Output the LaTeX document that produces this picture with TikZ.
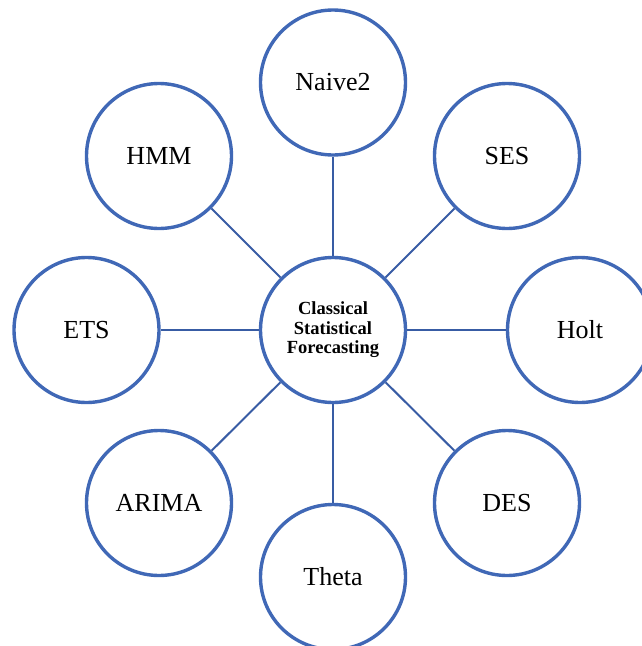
\documentclass[tikz,border=0pt]{standalone}
\usepackage{fontspec}
\setmainfont{Liberation Serif}
\definecolor{ringblue}{RGB}{64,104,182}
\definecolor{linkblue}{RGB}{56,92,164}
\begin{document}
\begin{tikzpicture}[x=1pt,y=-1pt,
  ring/.style={circle,draw=ringblue,line width=3.4pt,fill=white,minimum size=145pt,inner sep=0pt,font=\fontsize{26}{29}\selectfont},
  hub/.style={ring,font=\bfseries\fontsize{18.5}{19.5}\selectfont,align=center},
  link/.style={draw=linkblue,line width=2pt}]
\useasboundingbox (0,0) rectangle (641,646);
\node[hub] (c) at (333,330) {Classical\\Statistical\\Forecasting};
\node[ring] (naive) at (333,82.5) {Naive2};
\node[ring] (ses) at (507,156) {SES};
\node[ring] (holt) at (580,330) {Holt};
\node[ring] (des) at (507,503) {DES};
\node[ring] (theta) at (333,577) {Theta};
\node[ring] (arima) at (159,503) {ARIMA};
\node[ring] (ets) at (86.5,330) {ETS};
\node[ring] (hmm) at (159,156) {HMM};
\foreach \n in {naive,ses,holt,des,theta,arima,ets,hmm}
  \draw[link] (c) -- (\n);
\end{tikzpicture}
\end{document}
